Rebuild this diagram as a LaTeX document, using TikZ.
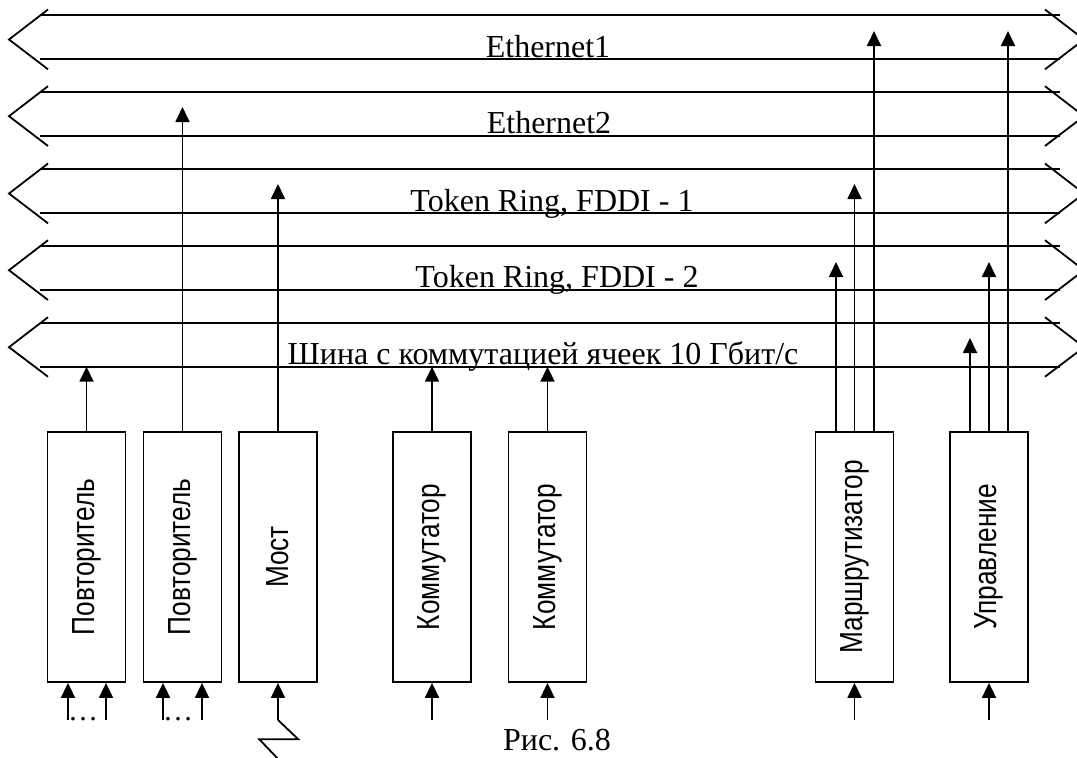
\documentclass[tikz,border=0pt]{standalone}
\usepackage{fontspec}
\setmainfont{Liberation Serif}
\newfontfamily\arialfont{Liberation Sans}
\usetikzlibrary{arrows.meta}
\begin{document}
\begin{tikzpicture}[x=1pt,y=-1pt,
  ln/.style={line width=1.8pt},
  arr/.style={ln,-{Triangle[length=15pt,width=14pt]}},
  box/.style={draw,ln,minimum width=78pt,minimum height=250pt,inner sep=0pt,anchor=center},
  lab/.style={rotate=90,inner sep=0pt,font=\arialfont\fontsize{32}{36}\selectfont},
  bustext/.style={anchor=base,inner sep=0pt,font=\fontsize{32}{36}\selectfont},
  dots/.style={anchor=base west,inner sep=0pt,font=\fontsize{30}{34}\selectfont}]
\useasboundingbox (0,0) rectangle (1077,758);
\clip (0,0) rectangle (1077,758);
% buses
\foreach \yt/\yb in {15/59.3, 91.7/136, 169/213.3, 245.7/290, 322.7/366.7}{
  \draw[ln] (40,\yt) -- (1060,\yt) (40,\yb) -- (1060,\yb);
  \draw[ln] (48,\yt-5.5) -- (9,\yt+24.5) -- (48,\yb+10);
  \draw[ln] (1045,\yt-5.5) -- (1084,\yt+24.5) -- (1045,\yb+10);
}
\node[bustext] (l1) at (548,57) {Ethernet1};
\node[bustext] (l2) at (549,133.5) {Ethernet2};
\node[bustext] (l3) at (552,211) {Token Ring, FDDI - 1};
\node[bustext] (l4) at (557,287.5) {Token Ring, FDDI - 2};
\node[bustext] (l5) at (543,364) {Шина с коммутацией ячеек 10 Гбит/с};
% boxes
\node[box] (p1) at (86.5,557) {};
\node[lab] at (p1.center) {\scalebox{0.82}[1]{Повторитель}};
\node[box] (p2) at (182.5,557) {};
\node[lab] at (p2.center) {\scalebox{0.82}[1]{Повторитель}};
\node[box] (most) at (278,557) {};
\node[lab] at (most.center) {\scalebox{0.82}[1]{Мост}};
\node[box] (k1) at (432,557) {};
\node[lab] at (k1.center) {\scalebox{0.82}[1]{Коммутатор}};
\node[box] (k2) at (547.5,557) {};
\node[lab] at (k2.center) {\scalebox{0.82}[1]{Коммутатор}};
\node[box] (mr) at (854.5,557) {};
\node[lab] at (mr.center) {\scalebox{0.82}[1]{Маршрутизатор}};
\node[box] (up) at (989,557) {};
\node[lab] at (up.center) {\scalebox{0.82}[1]{Управление}};
% tips
\coordinate (sb) at (0,366.7);
\coordinate (tE1) at (0,31);
\coordinate (tE2) at (0,107);
\coordinate (tT1) at (0,184);
\coordinate (tT2) at (0,262);
\coordinate (tS) at (0,338);
% outputs
\draw[arr] (p1.north) -- (p1.north |- sb);
\draw[arr] (p2.north) -- (p2.north |- tE2);
\draw[arr] (most.north) -- (most.north |- tT1);
\draw[arr] (k1.north) -- (k1.north |- sb);
\draw[arr] (k2.north) -- (k2.north |- sb);
\coordinate (mr1) at ([xshift=-18.5pt]mr.north);
\coordinate (mr2) at (mr.north);
\coordinate (mr3) at ([xshift=19.5pt]mr.north);
\draw[arr] (mr1) -- (mr1 |- tT2);
\draw[arr] (mr2) -- (mr2 |- tT1);
\draw[arr] (mr3) -- (mr3 |- tE1);
\coordinate (up1) at ([xshift=-19pt]up.north);
\coordinate (up2) at (up.north);
\coordinate (up3) at ([xshift=19pt]up.north);
\draw[arr] (up1) -- (up1 |- tS);
\draw[arr] (up2) -- (up2 |- tT2);
\draw[arr] (up3) -- (up3 |- tE1);
% inputs
\coordinate (bot) at (0,720);
\coordinate (i1a) at ([xshift=-18.5pt]p1.south |- bot);
\coordinate (i1b) at ([xshift=19.5pt]p1.south |- bot);
\coordinate (i2a) at ([xshift=-19.5pt]p2.south |- bot);
\coordinate (i2b) at ([xshift=19.5pt]p2.south |- bot);
\draw[arr] (i1a) -- (i1a |- p1.south);
\draw[arr] (i1b) -- (i1b |- p1.south);
\draw[arr] (i2a) -- (i2a |- p2.south);
\draw[arr] (i2b) -- (i2b |- p2.south);
\node[dots] (d1) at (i1a) {…};
\node[dots] (d2) at (i2a) {…};
\coordinate (im) at (most.south |- bot);
\draw[arr] (im) -- (most.south);
\coordinate (z1) at (298.3,739.3);
\coordinate (z2) at (259.3,739.3);
\coordinate (z3) at (281,762);
\draw[ln] (im) -- (z1) -- (z2) -- (z3);
\coordinate (ik1) at (k1.south |- bot);
\coordinate (ik2) at (k2.south |- bot);
\coordinate (imr) at (mr.south |- bot);
\coordinate (iup) at (up.south |- bot);
\draw[arr] (ik1) -- (k1.south);
\draw[arr] (ik2) -- (k2.south);
\draw[arr] (imr) -- (mr.south);
\draw[arr] (iup) -- (up.south);
% caption
\node[bustext] (cap) at (557,750) {Рис. 6.8};
\end{tikzpicture}
\end{document}
